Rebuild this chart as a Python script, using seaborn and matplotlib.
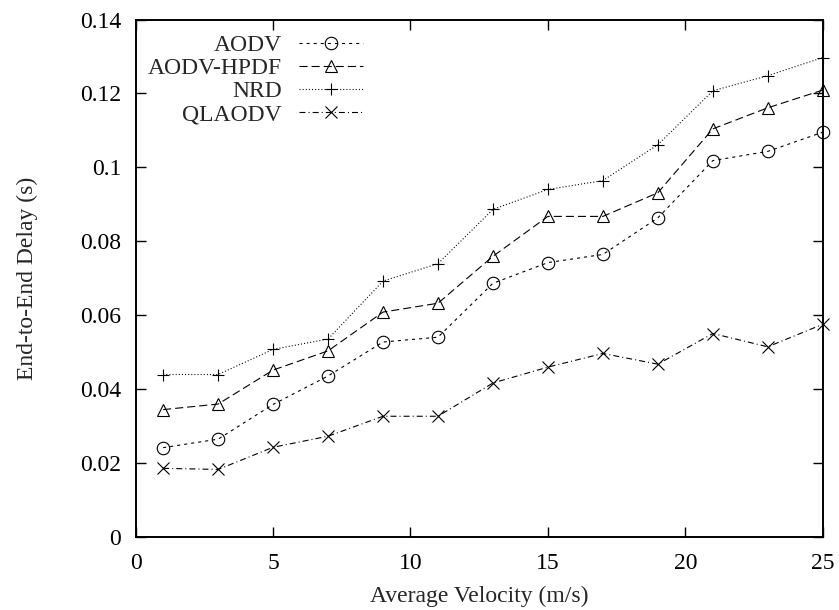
import matplotlib
matplotlib.use("Agg")
import matplotlib.pyplot as plt
import seaborn as sns
import pandas as pd

# Average node velocity (m/s)
velocity = [1, 3, 5, 7, 9, 11, 13, 15, 17, 19, 21, 23, 25]

# End-to-end delay (s) per routing protocol
aodv = [0.0241, 0.0264, 0.0358, 0.0435, 0.0527, 0.0540, 0.0686, 0.0742,
        0.0764, 0.0863, 0.1018, 0.1043, 0.1095]
aodv_hpdf = [0.0344, 0.0359, 0.0451, 0.0503, 0.0608, 0.0632, 0.0759, 0.0867,
             0.0867, 0.0931, 0.1104, 0.1161, 0.1209]
nrd = [0.0439, 0.0439, 0.0507, 0.0535, 0.0692, 0.0739, 0.0886, 0.0940,
       0.0964, 0.1061, 0.1207, 0.1248, 0.1297]
qlaodv = [0.0185, 0.0182, 0.0242, 0.0272, 0.0326, 0.0326, 0.0416, 0.0459,
          0.0496, 0.0467, 0.0550, 0.0514, 0.0575]

series_names = ["AODV", "AODV-HPDF", "NRD", "QLAODV"]
series_values = [aodv, aodv_hpdf, nrd, qlaodv]

x_ticks = [0, 5, 10, 15, 20, 25]
y_ticks = [0, 0.02, 0.04, 0.06, 0.08, 0.1, 0.12, 0.14]
y_tick_labels = ["0", "0.02", "0.04", "0.06", "0.08", "0.1", "0.12", "0.14"]

sns.set_theme(style="ticks")
plt.rcParams["font.family"] = ["Liberation Serif", "DejaVu Serif"]
plt.rcParams["lines.scale_dashes"] = False

styles = {
    "AODV": dict(marker="o", dashes=(2.2, 2.9)),
    "AODV-HPDF": dict(marker="^", dashes=(5.8, 2.9)),
    "NRD": dict(marker="+", dashes=(0.75, 1.5)),
    "QLAODV": dict(marker="x", dashes=(4.3, 2.2, 0.75, 2.2)),
}

frames = [pd.DataFrame({"velocity": velocity, "delay": vals, "protocol": name})
          for name, vals in zip(series_names, series_values)]
df = pd.concat(frames, ignore_index=True)

fig = plt.figure(figsize=(8.39, 6.10), dpi=100)
ax = fig.add_axes([0.1617, 0.1202, 0.9806 - 0.1617, 0.968 - 0.1202])

for name in series_names:
    st = styles[name]
    sub = df[df["protocol"] == name]
    sns.lineplot(data=sub, x="velocity", y="delay", ax=ax, color="black",
                 linewidth=0.8, marker=st["marker"], markersize=9,
                 mfc="none", mec="black", mew=0.8, label=name, clip_on=False)
    ax.lines[-1].set_dashes(st["dashes"])

ax.set_xlim(0, 25)
ax.set_ylim(0, 0.14)
ax.set_xticks(x_ticks)
ax.set_xticklabels([str(t) for t in x_ticks])
ax.set_yticks(y_ticks)
ax.set_yticklabels(y_tick_labels)
ax.tick_params(direction="in", length=7.2, width=1.0, top=True, right=True,
               labelsize=17, colors="black")
ax.tick_params(axis="y", pad=10.5)
ax.tick_params(axis="x", pad=12)
for sp in ax.spines.values():
    sp.set_linewidth(1.4)
    sp.set_color("black")

ax.set_xlabel("Average Velocity (m/s)", fontsize=17, labelpad=8)
ax.set_ylabel("End-to-End Delay (s)", fontsize=17, labelpad=30)

leg = ax.legend(loc="upper right", bbox_to_anchor=(0.331, 0.971),
                frameon=False, markerfirst=False, fontsize=17,
                handlelength=2.7, handletextpad=0.75, labelspacing=0.07,
                borderpad=0, borderaxespad=0)

fig.savefig("out.png", dpi=100, facecolor="white")
